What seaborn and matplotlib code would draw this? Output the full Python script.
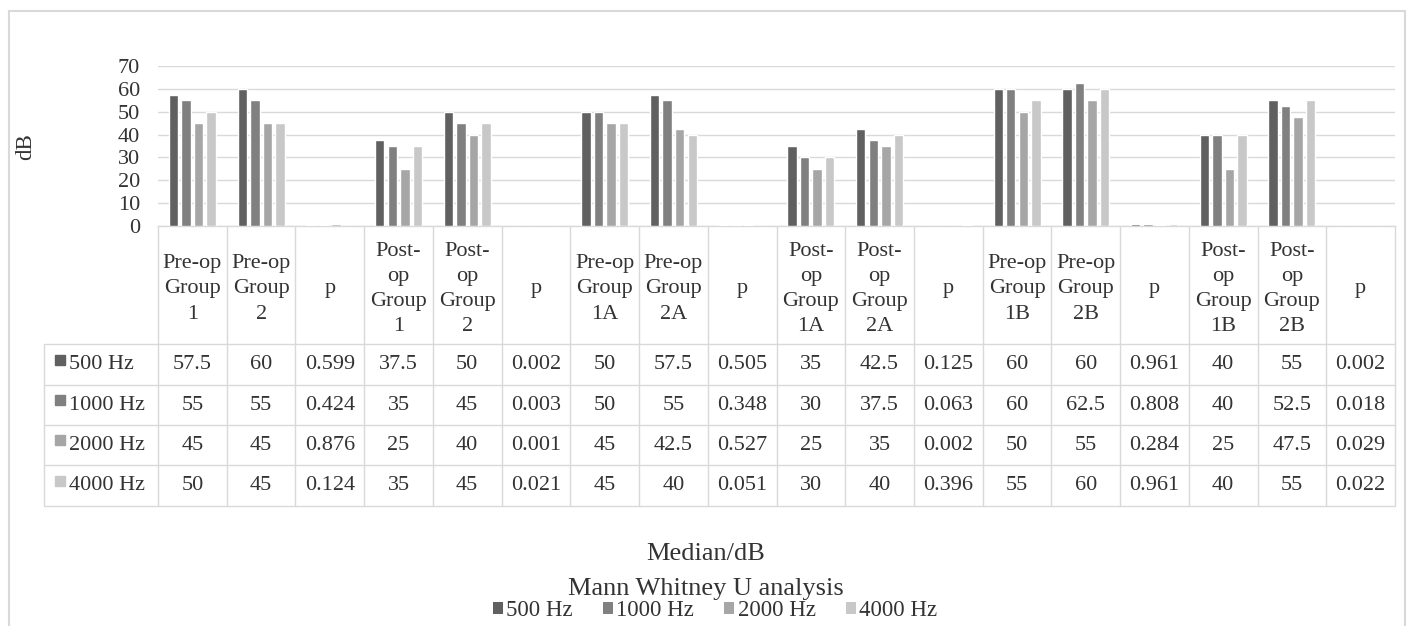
import numpy as np
import pandas as pd
import seaborn as sns
import matplotlib.pyplot as plt
from matplotlib.patches import Patch, Rectangle

sns.set_theme(style="white")
plt.rcParams["font.family"] = ["Liberation Serif", "DejaVu Serif"]
FS = 16

columns = ["Pre-op\nGroup\n1", "Pre-op\nGroup\n2", "p",
           "Post-\nop\nGroup\n1", "Post-\nop\nGroup\n2", "p",
           "Pre-op\nGroup\n1A", "Pre-op\nGroup\n2A", "p",
           "Post-\nop\nGroup\n1A", "Post-\nop\nGroup\n2A", "p",
           "Pre-op\nGroup\n1B", "Pre-op\nGroup\n2B", "p",
           "Post-\nop\nGroup\n1B", "Post-\nop\nGroup\n2B", "p"]
series = ["500 Hz", "1000 Hz", "2000 Hz", "4000 Hz"]
hz500 = [57.5, 60, 0.599, 37.5, 50, 0.002, 50, 57.5, 0.505, 35, 42.5, 0.125, 60, 60, 0.961, 40, 55, 0.002]
hz1000 = [55, 55, 0.424, 35, 45, 0.003, 50, 55, 0.348, 30, 37.5, 0.063, 60, 62.5, 0.808, 40, 52.5, 0.018]
hz2000 = [45, 45, 0.876, 25, 40, 0.001, 45, 42.5, 0.527, 25, 35, 0.002, 50, 55, 0.284, 25, 47.5, 0.029]
hz4000 = [50, 45, 0.124, 35, 45, 0.021, 45, 40, 0.051, 30, 40, 0.396, 55, 60, 0.961, 40, 55, 0.022]
colors = ["#606060", "#808080", "#a6a6a6", "#c8c8c8"]

values = [hz500, hz1000, hz2000, hz4000]
df = pd.DataFrame([(i, s, v) for s, vals in zip(series, values) for i, v in enumerate(vals)],
                  columns=["pos", "freq", "dB"])

W, H = 1412, 626
fig = plt.figure(figsize=(W / 100, H / 100), dpi=100)

# pixel layout of the plot area
px0, px1, py_top, py0 = 158, 1395, 66, 226
ax = fig.add_axes([px0 / W, 1 - py0 / H, (px1 - px0) / W, (py0 - py_top) / H])
sns.barplot(data=df, x="pos", y="dB", hue="freq", hue_order=series,
            palette=dict(zip(series, colors)), width=0.73, gap=0.25,
            saturation=1, legend=False, ax=ax, zorder=3)
ax.set_ylim(0, 70)
ax.set_yticks(range(0, 71, 10))
ax.set_xlim(-0.5, len(columns) - 0.5)
ax.set_xticks([])
ax.set_xlabel("")
ax.set_ylabel("")
ax.yaxis.grid(True, color="#d9d9d9", lw=1)
ax.set_axisbelow(True)
for s in ["top", "right", "left"]:
    ax.spines[s].set_visible(False)
ax.spines["bottom"].set_color("#d9d9d9")
ax.spines["bottom"].set_linewidth(1)
ax.spines["bottom"].set_zorder(1)
ax.tick_params(axis="y", length=0, pad=13, labelsize=FS, labelcolor="#333333")

# overlay for the data table, border and titles (pixel coordinates)
ov = fig.add_axes([0, 0, 1, 1], zorder=-1)
ov.set_xlim(0, W)
ov.set_ylim(H, 0)
ov.axis("off")
lc = "#d9d9d9"
tc = "#333333"

ov.plot([9, 9], [11, H], color=lc, lw=1.5)
ov.plot([9, 1405], [11, 11], color=lc, lw=1.5)
ov.plot([1405, 1405], [11, H], color=lc, lw=1.5)

ncol = len(columns)
cw = (px1 - px0) / ncol
row_y = [344, 385, 425, 465, 506]
legend_x = 44
for j in range(ncol + 1):
    x = px0 + j * cw
    ov.plot([x, x], [py0, row_y[-1]], color=lc, lw=1)
for y in row_y:
    ov.plot([legend_x, px1], [y, y], color=lc, lw=1)
ov.plot([legend_x, legend_x], [row_y[0], row_y[-1]], color=lc, lw=1)

for j, lab in enumerate(columns):
    ov.text(px0 + (j + 0.5) * cw, 289, lab, ha="center", va="center",
            fontsize=FS, color=tc, linespacing=1.45)

for r, (name, vals, c) in enumerate(zip(series, values, colors)):
    yc = (row_y[r] + row_y[r + 1]) / 2
    ov.add_patch(Rectangle((55, yc - 10), 10, 10, color=c))
    ov.text(69, yc, name, ha="left", va="center", fontsize=FS, color=tc)
    for j, v in enumerate(vals):
        ov.text(px0 + (j + 0.5) * cw, yc, f"{v:g}", ha="center", va="center",
                fontsize=FS, color=tc)

fig.text(26 / W, 1 - 147 / H, "dB", rotation=90, ha="center", va="center",
         fontsize=16.5, color=tc)
fig.text(706 / W, 1 - 554 / H, "Median/dB", ha="center", va="center", fontsize=19, color=tc)
fig.text(706 / W, 1 - 589 / H, "Mann Whitney U analysis", ha="center", va="center",
         fontsize=19, color=tc)

handles = [Patch(facecolor=c, edgecolor="none") for c in colors]
leg = fig.legend(handles, series, loc="center", bbox_to_anchor=(715 / W, 1 - 611 / H),
                 ncol=4, frameon=False, fontsize=16.5, handlelength=0.45, handleheight=0.45,
                 handletextpad=0.15, columnspacing=1.3, borderpad=0)
for t in leg.get_texts():
    t.set_color(tc)

fig.savefig("out.png", dpi=100)
